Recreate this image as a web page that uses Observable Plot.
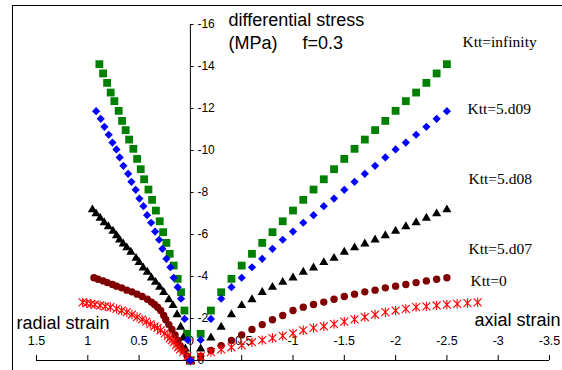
<!DOCTYPE html>
<html>
<head>
<meta charset="utf-8">
<script src="https://cdn.jsdelivr.net/npm/d3@7"></script>
<script src="https://cdn.jsdelivr.net/npm/@observablehq/plot@0.6"></script>
<style>
  html, body { margin: 0; padding: 0; background: #fff; }
  #chart svg { display: block; }
</style>
</head>
<body>
<div id="chart"></div>
<script>
// ---- axis ticks ----
const xTicks = [1.5, 1, 0.5, 0, -0.5, -1, -1.5, -2, -2.5, -3, -3.5];
const yTicks = [-16, -14, -12, -10, -8, -6, -4, -2, 0];

// ---- series labels ----
const seriesLabels = ["Ktt=infinity", "Ktt=5.d09", "Ktt=5.d08", "Ktt=5.d07", "Ktt=0"];

// ---- Ktt = infinity (green squares) ----
const stressInf = [0, -1.27, -2.38, -3.25, -3.89, -4.52, -5.08, -5.60, -6.11, -6.63, -7.14, -7.65, -8.14, -8.63, -9.11, -9.60, -10.08, -10.52, -10.97, -11.41, -11.89, -12.35, -12.76, -13.22, -13.67, -14.11];
const axialInf  = [0, -0.1, -0.2, -0.3, -0.4, -0.5, -0.6, -0.7, -0.8, -0.9, -1.0, -1.1, -1.2, -1.3, -1.4, -1.5, -1.6, -1.7, -1.8, -1.9, -2.0, -2.1, -2.2, -2.3, -2.4, -2.5];
const radialInf = [0, 0.032, 0.058, 0.091, 0.124, 0.163, 0.202, 0.234, 0.266, 0.299, 0.336, 0.373, 0.409, 0.451, 0.484, 0.519, 0.556, 0.597, 0.631, 0.666, 0.699, 0.741, 0.777, 0.812, 0.851, 0.887];

// ---- Ktt = 5.d09 (blue diamonds) ----
const stress09 = [0, -0.98, -1.98, -2.94, -3.49, -3.94, -4.44, -4.84, -5.32, -5.75, -6.14, -6.56, -6.92, -7.35, -7.71, -8.13, -8.51, -8.89, -9.27, -9.67, -10.05, -10.38, -10.75, -11.13, -11.51, -11.87];
const axial09  = [0, -0.1, -0.2, -0.3, -0.4, -0.5, -0.6, -0.7, -0.8, -0.9, -1.0, -1.1, -1.2, -1.3, -1.4, -1.5, -1.6, -1.7, -1.8, -1.9, -2.0, -2.1, -2.2, -2.3, -2.4, -2.5];
const radial09 = [0, 0.026, 0.056, 0.091, 0.124, 0.163, 0.195, 0.234, 0.273, 0.305, 0.344, 0.383, 0.422, 0.458, 0.497, 0.533, 0.575, 0.607, 0.653, 0.689, 0.721, 0.760, 0.796, 0.838, 0.874, 0.919];

// ---- Ktt = 5.d08 (black triangles) ----
const stress08 = [0, -0.56, -1.08, -1.59, -2.19, -2.62, -2.90, -3.25, -3.49, -3.73, -3.94, -4.21, -4.41, -4.67, -4.87, -5.16, -5.37, -5.56, -5.75, -5.95, -6.16, -6.38, -6.57, -6.78, -6.99, -7.18];
const axial08  = [0, -0.1, -0.2, -0.3, -0.4, -0.5, -0.6, -0.7, -0.8, -0.9, -1.0, -1.1, -1.2, -1.3, -1.4, -1.5, -1.6, -1.7, -1.8, -1.9, -2.0, -2.1, -2.2, -2.3, -2.4, -2.5];
const radial08 = [0, 0.05, 0.07, 0.095, 0.13, 0.17, 0.21, 0.26, 0.30, 0.34, 0.38, 0.42, 0.46, 0.50, 0.53, 0.58, 0.62, 0.655, 0.69, 0.72, 0.755, 0.80, 0.84, 0.88, 0.92, 0.955];

// ---- Ktt = 5.d07 (dark red circles) ----
const stress07 = [0, -0.2, -0.48, -0.71, -0.95, -1.22, -1.48, -1.71, -1.94, -2.14, -2.38, -2.54, -2.67, -2.78, -2.92, -3.05, -3.16, -3.27, -3.35, -3.46, -3.54, -3.62, -3.71, -3.79, -3.87, -3.94];
const axial07  = [0, -0.1, -0.2, -0.3, -0.4, -0.5, -0.6, -0.7, -0.8, -0.9, -1.0, -1.1, -1.2, -1.3, -1.4, -1.5, -1.6, -1.7, -1.8, -1.9, -2.0, -2.1, -2.2, -2.3, -2.4, -2.5];
const radial07 = [0, 0.03, 0.065, 0.10, 0.12, 0.15, 0.18, 0.21, 0.24, 0.26, 0.29, 0.32, 0.35, 0.38, 0.42, 0.47, 0.52, 0.57, 0.62, 0.67, 0.72, 0.76, 0.81, 0.85, 0.90, 0.94];

// ---- Ktt = 0 (red star markers) ----
const stress0 = [0, -0.2, -0.4, -0.53, -0.63, -0.73, -0.87, -0.97, -1.07, -1.17, -1.29, -1.44, -1.55, -1.63, -1.73, -1.85, -1.96, -2.07, -2.19, -2.30, -2.38, -2.46, -2.54, -2.58, -2.62, -2.66, -2.70, -2.73, -2.77];
const axial0  = [0, -0.1, -0.2, -0.3, -0.4, -0.5, -0.6, -0.7, -0.8, -0.9, -1.0, -1.1, -1.2, -1.3, -1.4, -1.5, -1.6, -1.7, -1.8, -1.9, -2.0, -2.1, -2.2, -2.3, -2.4, -2.5, -2.6, -2.7, -2.8];
const radial0 = [0, 0.03, 0.07, 0.10, 0.12, 0.14, 0.16, 0.18, 0.20, 0.22, 0.25, 0.29, 0.32, 0.35, 0.39, 0.43, 0.47, 0.52, 0.57, 0.62, 0.67, 0.72, 0.78, 0.83, 0.88, 0.93, 0.97, 1.01, 1.05];

// build point tables (both branches share the stress values)
function points(stress, radial, axial) {
  const out = [];
  stress.forEach((s, i) => {
    out.push({strain: radial[i], stress: s});
    out.push({strain: axial[i], stress: s});
  });
  return out;
}
const ptsInf = points(stressInf, radialInf, axialInf);
const pts09 = points(stress09, radial09, axial09);
const pts08 = points(stress08, radial08, axial08);
const pts07 = points(stress07, radial07, axial07);
const pts0 = points(stress0, radial0, axial0);

// Excel-style star marker: an X with a vertical bar
const excelStar = {
  draw(ctx, size) {
    const r = Math.sqrt(size) * 0.6;
    const d = r * 0.85;
    ctx.moveTo(0, -r); ctx.lineTo(0, r);
    ctx.moveTo(-d, -d); ctx.lineTo(d, d);
    ctx.moveTo(-d, d); ctx.lineTo(d, -d);
  }
};

const W = 562, H = 370;
const serif = "Liberation Serif, Times New Roman, serif";

const chart = Plot.plot({
  width: W,
  height: H,
  marginLeft: 36,
  marginRight: 13,
  marginTop: 24,
  marginBottom: 10,
  style: {fontFamily: "Liberation Sans, Arial, sans-serif", fontSize: "12px", background: "white", color: "black"},
  x: {domain: [xTicks[0], xTicks[xTicks.length - 1]], axis: null},
  y: {domain: [0, -16], axis: null},
  marks: [
    Plot.frame({stroke: "black", strokeWidth: 1, insetLeft: -24, insetTop: -19, insetRight: -30, insetBottom: -30}),
    // x axis
    Plot.ruleY([0], {x1: xTicks[0], x2: xTicks[xTicks.length - 1], stroke: "black"}),
    Plot.ruleX(xTicks, {x: d => d, y1: 0, y2: -0.24, stroke: "black"}),
    Plot.text(xTicks, {x: d => d, y: 0, dy: -20, text: d => String(d), fontSize: 12.5}),
    // y axis
    Plot.ruleX([0], {y1: yTicks[yTicks.length - 1], y2: yTicks[0], stroke: "black"}),
    Plot.ruleY(yTicks, {y: d => d, x1: 0, x2: -0.035, stroke: "black"}),
    Plot.text(yTicks, {x: 0, y: d => d, dx: 7, textAnchor: "start", text: d => String(d), fontSize: 12}),
    // data
    Plot.dot(ptsInf, {x: "strain", y: "stress", symbol: "square", r: 4.4, fill: "#008000"}),
    Plot.dot(pts08, {x: "strain", y: "stress", symbol: "triangle", r: 3.4, fill: "#000000"}),
    Plot.dot(pts07, {x: "strain", y: "stress", symbol: "circle", r: 3.7, fill: "#800000"}),
    Plot.dot(pts0, {x: "strain", y: "stress", symbol: excelStar, r: 4.4, fill: "none", stroke: "#ff0000", strokeWidth: 1.1}),
    Plot.dot(pts09, {x: "strain", y: "stress", symbol: "diamond2", r: 3.7, fill: "#0000ff"}),
    // axis titles
    Plot.text(["differential stress"], {frameAnchor: "top-left", dx: 192, dy: 1, lineAnchor: "bottom", textAnchor: "start", fontSize: 18, text: d => d}),
    Plot.text(["(MPa)"], {frameAnchor: "top-left", dx: 192, dy: 24, lineAnchor: "bottom", textAnchor: "start", fontSize: 18, text: d => d}),
    Plot.text(["f=0.3"], {frameAnchor: "top-left", dx: 266, dy: 24, lineAnchor: "bottom", textAnchor: "start", fontSize: 18, text: d => d}),
    Plot.text(["radial strain"], {frameAnchor: "top-left", dx: -20, dy: 304, lineAnchor: "bottom", textAnchor: "start", fontSize: 18, text: d => d}),
    Plot.text(["axial strain"], {frameAnchor: "top-left", dx: 438, dy: 301, lineAnchor: "bottom", textAnchor: "start", fontSize: 18, text: d => d}),
    // series labels
    Plot.text([seriesLabels[0]], {frameAnchor: "top-left", dx: 426, dy: 22, lineAnchor: "bottom", textAnchor: "start", fontSize: 15.5, fontFamily: serif, text: d => d}),
    Plot.text([seriesLabels[1]], {frameAnchor: "top-left", dx: 431, dy: 89, lineAnchor: "bottom", textAnchor: "start", fontSize: 15.5, fontFamily: serif, text: d => d}),
    Plot.text([seriesLabels[2]], {frameAnchor: "top-left", dx: 432, dy: 159, lineAnchor: "bottom", textAnchor: "start", fontSize: 15.5, fontFamily: serif, text: d => d}),
    Plot.text([seriesLabels[3]], {frameAnchor: "top-left", dx: 432, dy: 229, lineAnchor: "bottom", textAnchor: "start", fontSize: 15.5, fontFamily: serif, text: d => d}),
    Plot.text([seriesLabels[4]], {frameAnchor: "top-left", dx: 434, dy: 261, lineAnchor: "bottom", textAnchor: "start", fontSize: 15.5, fontFamily: serif, text: d => d})
  ]
});
document.getElementById("chart").appendChild(chart);
</script>
</body>
</html>
